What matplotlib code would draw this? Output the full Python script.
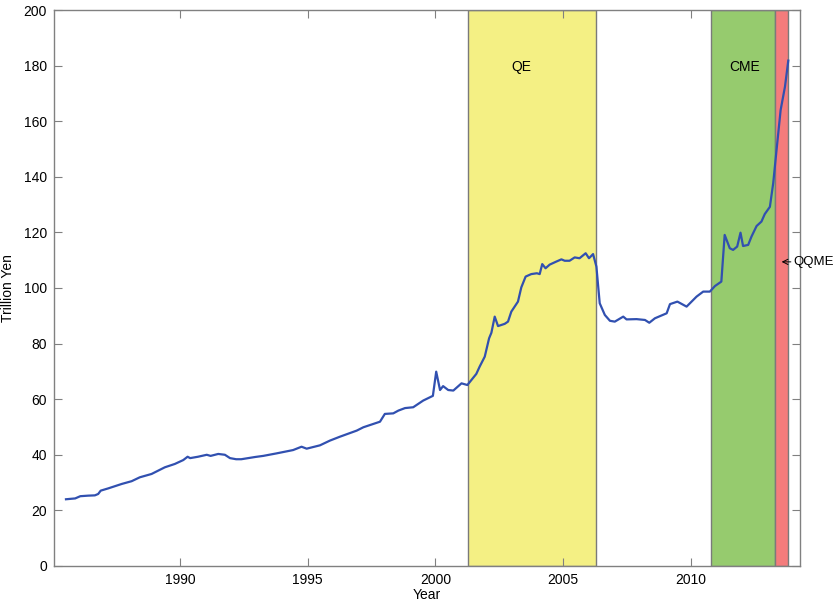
import matplotlib
matplotlib.use('Agg')
import matplotlib.pyplot as plt

plt.rcParams['font.family'] = ['Liberation Sans', 'DejaVu Sans']

# monetary base (year, trillion yen)
years = [1985.54, 1985.9, 1986.1, 1986.41, 1986.67, 1986.8, 1986.9, 1987.19, 1987.72,
         1988.11, 1988.43, 1988.89, 1989.02, 1989.41, 1989.8, 1990.13, 1990.3, 1990.4,
         1990.71, 1991.05, 1991.2, 1991.5, 1991.76, 1991.96, 1992.2, 1992.4, 1992.67,
         1992.94, 1993.26, 1993.78, 1994.43, 1994.76, 1994.96, 1995.48, 1995.87, 1996.26,
         1996.92, 1997.18, 1997.7, 1997.83, 1998.02, 1998.35, 1998.55, 1998.81, 1999.13,
         1999.52, 1999.9, 2000.03, 2000.18, 2000.3, 2000.5, 2000.7, 2001.02, 2001.25,
         2001.6, 2001.73, 2001.93, 2002.1, 2002.19, 2002.32, 2002.45, 2002.71, 2002.84,
         2002.97, 2003.23, 2003.36, 2003.53, 2003.75, 2003.97, 2004.08, 2004.18, 2004.31,
         2004.47, 2004.73, 2004.93, 2005.06, 2005.25, 2005.45, 2005.64, 2005.88, 2006.01,
         2006.17, 2006.3, 2006.43, 2006.63, 2006.83, 2007.02, 2007.35, 2007.48, 2007.87,
         2008.2, 2008.37, 2008.59, 2009.05, 2009.18, 2009.47, 2009.83, 2010.22, 2010.48,
         2010.74, 2010.94, 2011.19, 2011.32, 2011.52, 2011.65, 2011.81, 2011.94, 2012.04,
         2012.24, 2012.37, 2012.57, 2012.76, 2012.89, 2013.09, 2013.22, 2013.35, 2013.51,
         2013.68, 2013.81]
base = [24.0, 24.3, 25.1, 25.3, 25.4, 25.9, 27.1, 27.9, 29.5,
        30.5, 31.9, 33.1, 33.7, 35.5, 36.7, 38.1, 39.3, 38.8,
        39.3, 40.0, 39.6, 40.3, 40.0, 38.8, 38.4, 38.4, 38.8,
        39.2, 39.6, 40.5, 41.7, 42.9, 42.2, 43.4, 45.1, 46.5,
        48.7, 49.9, 51.5, 51.9, 54.7, 54.9, 55.9, 56.8, 57.1,
        59.5, 61.2, 69.9, 63.3, 64.7, 63.3, 63.1, 65.7, 65.1,
        69.1, 71.7, 75.3, 81.9, 83.9, 89.7, 86.3, 87.1, 87.9,
        91.5, 95.1, 100.2, 104.1, 105.0, 105.3, 105.0, 108.6, 107.1,
        108.4, 109.5, 110.3, 109.8, 109.8, 111.0, 110.7, 112.5, 110.7,
        112.2, 107.7, 94.5, 90.3, 88.2, 87.9, 89.7, 88.7, 88.8,
        88.5, 87.5, 89.1, 90.9, 94.2, 95.1, 93.3, 96.9, 98.7,
        98.7, 100.7, 102.3, 119.1, 114.3, 113.7, 114.9, 119.9, 115.1,
        115.5, 118.5, 122.3, 123.9, 126.6, 129.2, 137.7, 149.6, 164.0,
        172.4, 181.8]

# policy periods
periods = ['QE', 'CME', 'QQME']
starts = [2001.28, 2010.79, 2013.29]
ends = [2006.28, 2013.29, 2013.79]
colors = ['#f4f084', '#96cb6e', '#f47c7c']

fig = plt.figure(figsize=(8.38, 6.03), dpi=100)
ax = fig.add_axes([0.0644, 0.0614, 0.8903, 0.922])

for s, e, c in zip(starts, ends, colors):
    ax.axvspan(s, e, facecolor=c, edgecolor='#7a7a7a', linewidth=1.0, zorder=1)

ax.plot(years, base, color='#3150b0', linewidth=1.6, zorder=3)

ax.text(2003.35, 179.5, periods[0], ha='center', va='center', fontsize=10)
ax.text(2012.11, 179.5, periods[1], ha='center', va='center', fontsize=10)
ax.annotate(periods[2], xy=(2013.55, 109.4), xytext=(2014.02, 109.4),
            ha='left', va='center', fontsize=9.5, annotation_clip=False,
            arrowprops=dict(arrowstyle='->', color='black', lw=0.7,
                            shrinkA=0, shrinkB=0))

ax.set_xlim(1985.07, 2014.27)
ax.set_ylim(0, 200)
ax.set_xticks([1990, 1995, 2000, 2005, 2010])
ax.set_yticks(range(0, 201, 20))
ax.set_xlabel('Year', fontsize=10, labelpad=1)
ax.set_ylabel('Trillion Yen', fontsize=10, labelpad=6)

for sp in ax.spines.values():
    sp.set_color('#808080')
    sp.set_linewidth(1.0)
ax.tick_params(direction='in', length=6, color='#808080', labelsize=10,
               top=True, right=True, pad=5)

fig.savefig('out.png', dpi=100)
